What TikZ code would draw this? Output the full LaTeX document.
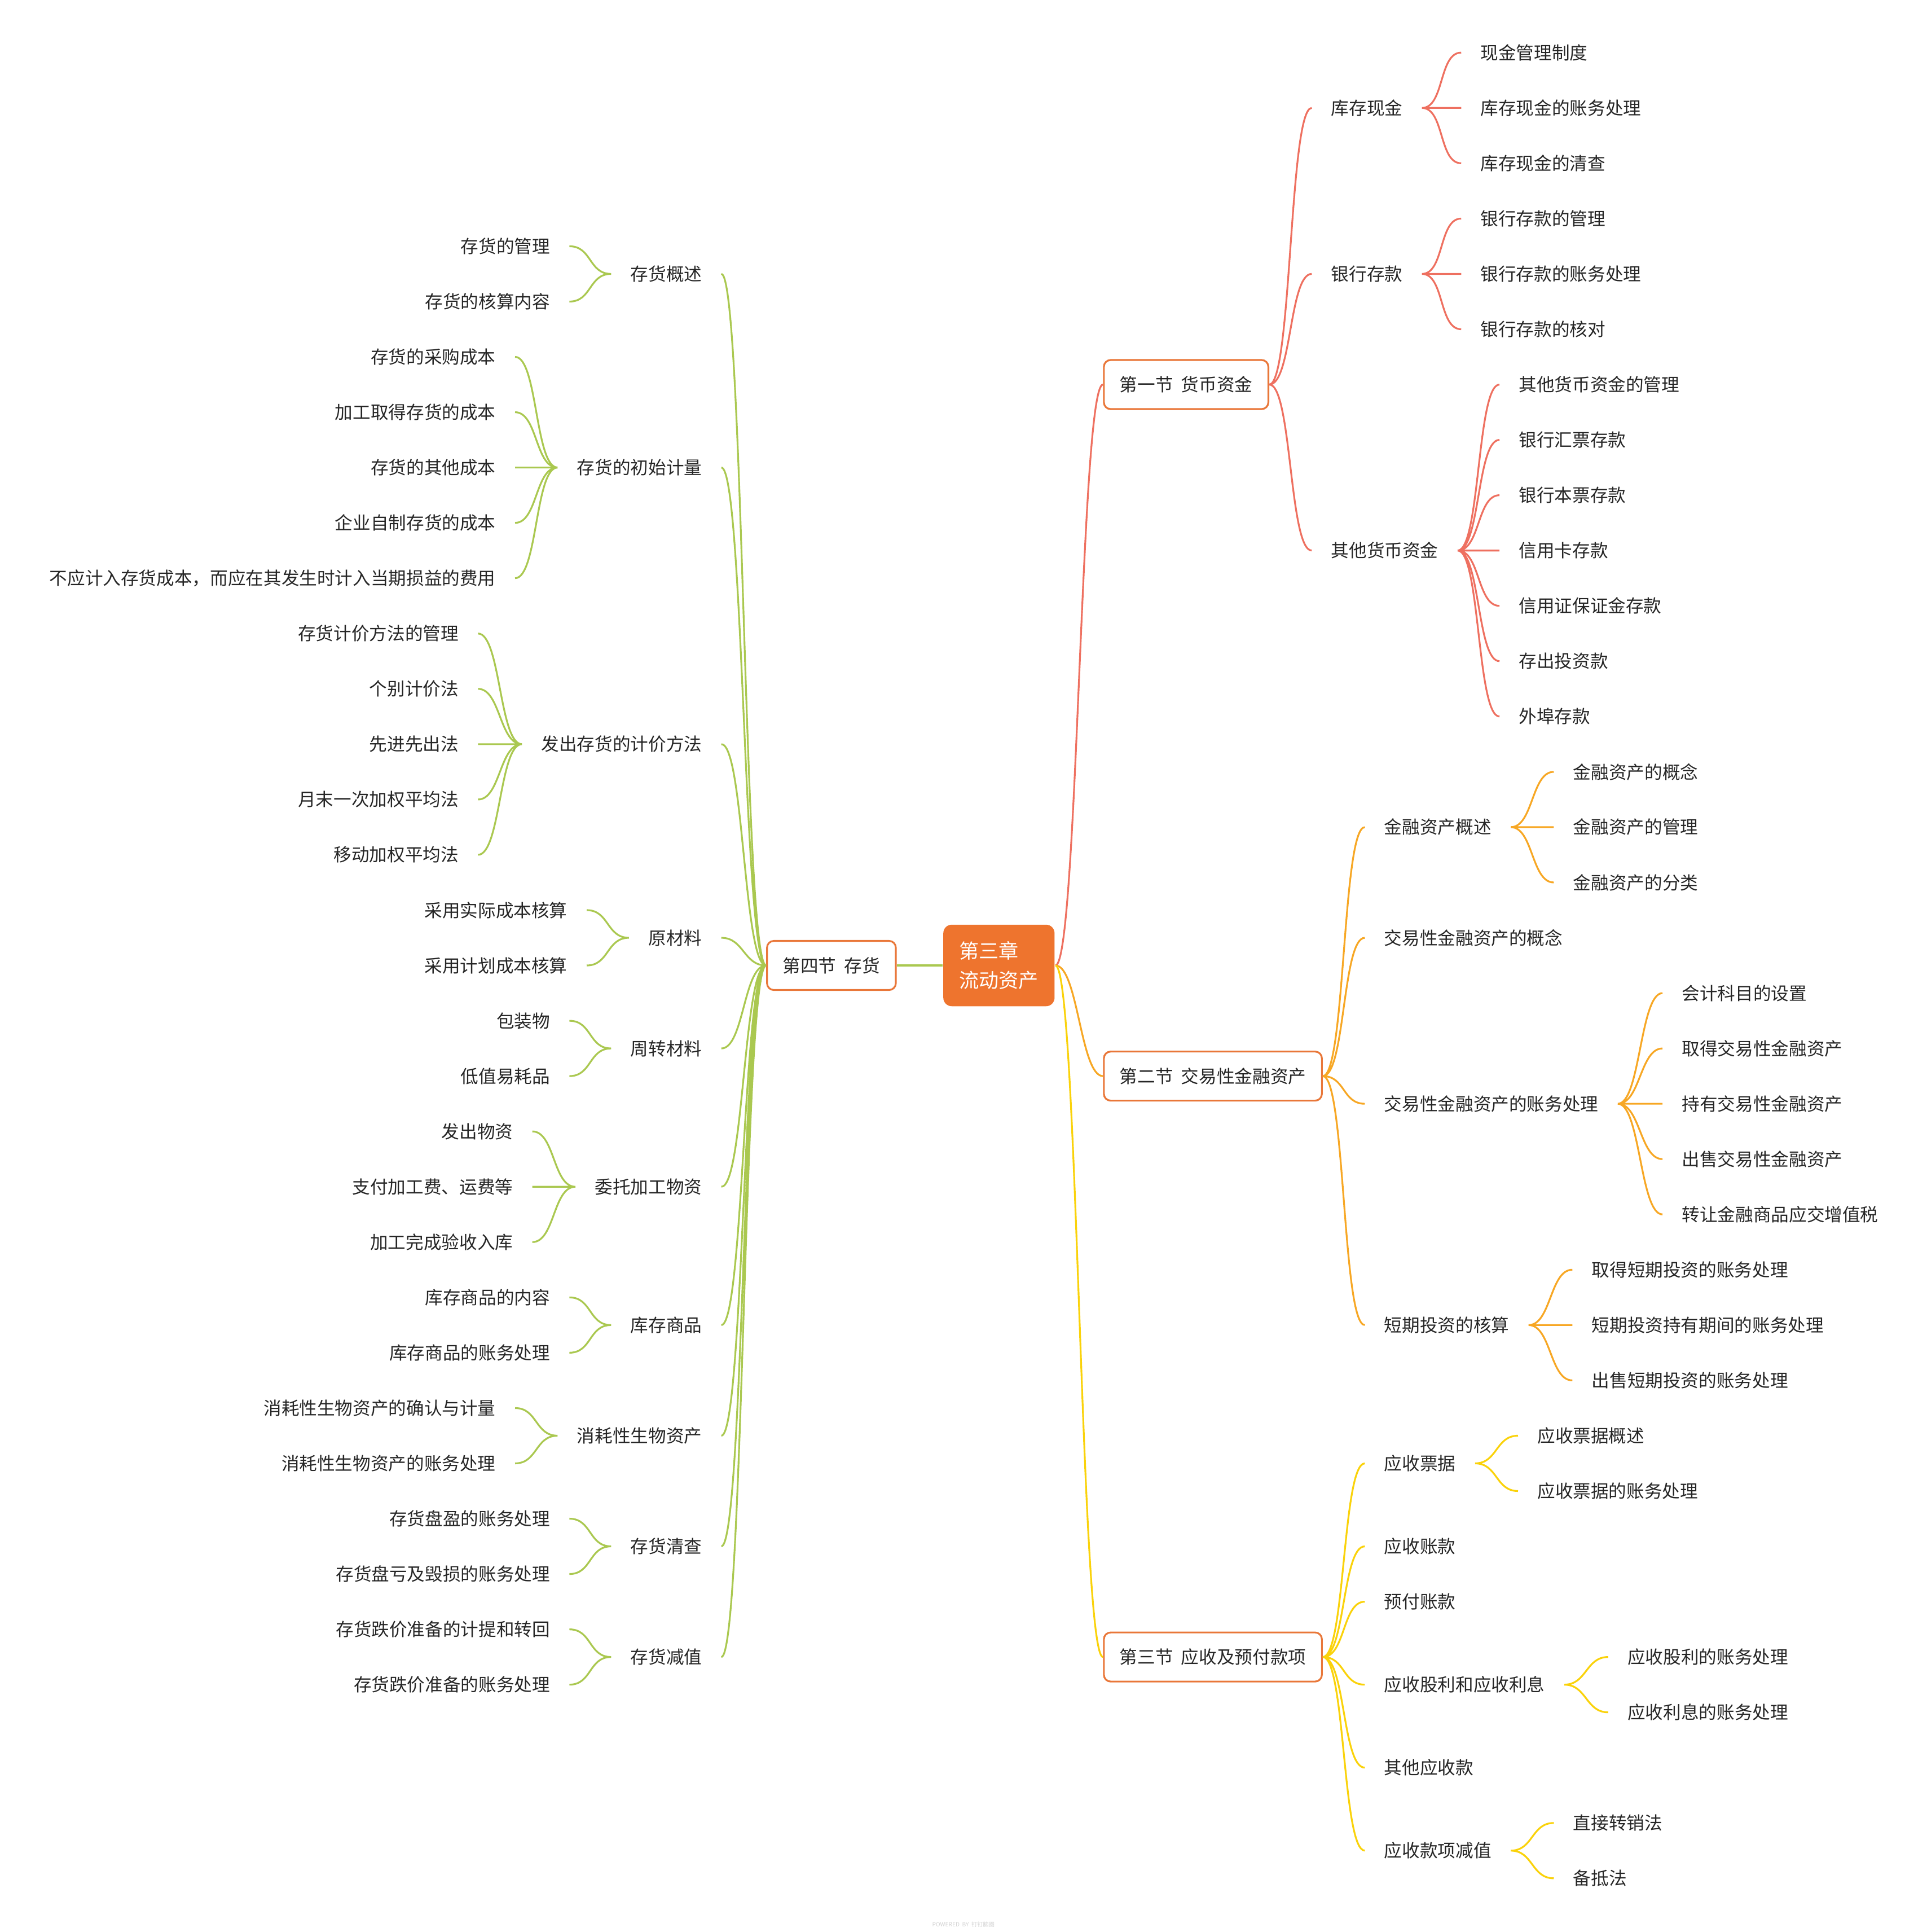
\documentclass[tikz,border=0pt]{standalone}
\usepackage{fontspec}
\setmainfont{Noto Sans CJK SC}[WordSpace=2]
\usepackage{tikz}

\definecolor{rootorange}{RGB}{238,116,46}
\definecolor{boxorange}{RGB}{233,119,57}
\definecolor{linered}{RGB}{238,112,96}
\definecolor{lineorange}{RGB}{247,167,36}
\definecolor{lineyellow}{RGB}{250,210,10}
\definecolor{linegreen}{RGB}{170,200,80}

\begin{document}
\begin{tikzpicture}[x=0.0219cm,y=-0.9805cm,line width=0.9pt,
    font=\fontsize{9}{11}\selectfont,text=black!85,
    root/.style={fill=rootorange,text=white,rounded corners=0.15cm,font=\fontsize{10}{15}\selectfont,align=left,inner xsep=0.283cm,minimum height=1.445cm},
    sect/.style={draw=boxorange,fill=white,rounded corners=0.12cm,inner xsep=0.28cm,minimum height=0.87cm},
    rt/.style={anchor=west,inner xsep=0.3285cm},
    lt/.style={anchor=east,inner xsep=0.3285cm},
    rc/.style={out=0,in=180,distance=0.4cm},
    lc/.style={out=180,in=0,distance=0.4cm}]
    \useasboundingbox (0,-0.951) rectangle (1559.8,33.971);

    \node[root,anchor=west] (root) at (763,16.5) {第三章\\流动资产};
    \node[sect,anchor=west] (s1) at (893,6) {第一节 货币资金};
    \node[sect,anchor=west] (s2) at (893,18.5) {第二节 交易性金融资产};
    \node[sect,anchor=west] (s3) at (893,29) {第三节 应收及预付款项};
    \node[sect,anchor=east] (s4) at (726,16.5) {第四节 存货};

    % 第一节
    \node[rt] (a1) at (1062,1) {库存现金};
    \node[rt] (a2) at (1062,4) {银行存款};
    \node[rt] (a3) at (1062,9) {其他货币资金};
    \node[rt] (a11) at (1183,0) {现金管理制度};
    \node[rt] (a12) at (1183,1) {库存现金的账务处理};
    \node[rt] (a13) at (1183,2) {库存现金的清查};
    \node[rt] (a21) at (1183,3) {银行存款的管理};
    \node[rt] (a22) at (1183,4) {银行存款的账务处理};
    \node[rt] (a23) at (1183,5) {银行存款的核对};
    \node[rt] (a31) at (1214,6) {其他货币资金的管理};
    \node[rt] (a32) at (1214,7) {银行汇票存款};
    \node[rt] (a33) at (1214,8) {银行本票存款};
    \node[rt] (a34) at (1214,9) {信用卡存款};
    \node[rt] (a35) at (1214,10) {信用证保证金存款};
    \node[rt] (a36) at (1214,11) {存出投资款};
    \node[rt] (a37) at (1214,12) {外埠存款};

    % 第二节
    \node[rt] (b1) at (1105,14) {金融资产概述};
    \node[rt] (b2) at (1105,16) {交易性金融资产的概念};
    \node[rt] (b3) at (1105,19) {交易性金融资产的账务处理};
    \node[rt] (b4) at (1105,23) {短期投资的核算};
    \node[rt] (b11) at (1258,13) {金融资产的概念};
    \node[rt] (b12) at (1258,14) {金融资产的管理};
    \node[rt] (b13) at (1258,15) {金融资产的分类};
    \node[rt] (b31) at (1346,17) {会计科目的设置};
    \node[rt] (b32) at (1346,18) {取得交易性金融资产};
    \node[rt] (b33) at (1346,19) {持有交易性金融资产};
    \node[rt] (b34) at (1346,20) {出售交易性金融资产};
    \node[rt] (b35) at (1346,21) {转让金融商品应交增值税};
    \node[rt] (b41) at (1273,22) {取得短期投资的账务处理};
    \node[rt] (b42) at (1273,23) {短期投资持有期间的账务处理};
    \node[rt] (b43) at (1273,24) {出售短期投资的账务处理};

    % 第三节
    \node[rt] (c1) at (1105,25.5) {应收票据};
    \node[rt] (c2) at (1105,27) {应收账款};
    \node[rt] (c3) at (1105,28) {预付账款};
    \node[rt] (c4) at (1105,29.5) {应收股利和应收利息};
    \node[rt] (c5) at (1105,31) {其他应收款};
    \node[rt] (c6) at (1105,32.5) {应收款项减值};
    \node[rt] (c11) at (1229,25) {应收票据概述};
    \node[rt] (c12) at (1229,26) {应收票据的账务处理};
    \node[rt] (c41) at (1302,29) {应收股利的账务处理};
    \node[rt] (c42) at (1302,30) {应收利息的账务处理};
    \node[rt] (c61) at (1258,32) {直接转销法};
    \node[rt] (c62) at (1258,33) {备抵法};

    % 第四节
    \node[lt] (d1) at (584,4) {存货概述};
    \node[lt] (d2) at (584,7.5) {存货的初始计量};
    \node[lt] (d3) at (584,12.5) {发出存货的计价方法};
    \node[lt] (d4) at (584,16) {原材料};
    \node[lt] (d5) at (584,18) {周转材料};
    \node[lt] (d6) at (584,20.5) {委托加工物资};
    \node[lt] (d7) at (584,23) {库存商品};
    \node[lt] (d8) at (584,25) {消耗性生物资产};
    \node[lt] (d9) at (584,27) {存货清查};
    \node[lt] (d10) at (584,29) {存货减值};
    \node[lt] (d11) at (461,3.5) {存货的管理};
    \node[lt] (d12) at (461,4.5) {存货的核算内容};
    \node[lt] (d21) at (417,5.5) {存货的采购成本};
    \node[lt] (d22) at (417,6.5) {加工取得存货的成本};
    \node[lt] (d23) at (417,7.5) {存货的其他成本};
    \node[lt] (d24) at (417,8.5) {企业自制存货的成本};
    \node[lt] (d25) at (417,9.5) {不应计入存货成本，而应在其发生时计入当期损益的费用};
    \node[lt] (d31) at (387,10.5) {存货计价方法的管理};
    \node[lt] (d32) at (387,11.5) {个别计价法};
    \node[lt] (d33) at (387,12.5) {先进先出法};
    \node[lt] (d34) at (387,13.5) {月末一次加权平均法};
    \node[lt] (d35) at (387,14.5) {移动加权平均法};
    \node[lt] (d41) at (475,15.5) {采用实际成本核算};
    \node[lt] (d42) at (475,16.5) {采用计划成本核算};
    \node[lt] (d51) at (461,17.5) {包装物};
    \node[lt] (d52) at (461,18.5) {低值易耗品};
    \node[lt] (d61) at (431,19.5) {发出物资};
    \node[lt] (d62) at (431,20.5) {支付加工费、运费等};
    \node[lt] (d63) at (431,21.5) {加工完成验收入库};
    \node[lt] (d71) at (461,22.5) {库存商品的内容};
    \node[lt] (d72) at (461,23.5) {库存商品的账务处理};
    \node[lt] (d81) at (417,24.5) {消耗性生物资产的确认与计量};
    \node[lt] (d82) at (417,25.5) {消耗性生物资产的账务处理};
    \node[lt] (d91) at (461,26.5) {存货盘盈的账务处理};
    \node[lt] (d92) at (461,27.5) {存货盘亏及毁损的账务处理};
    \node[lt] (d101) at (461,28.5) {存货跌价准备的计提和转回};
    \node[lt] (d102) at (461,29.5) {存货跌价准备的账务处理};

    \node[font=\fontsize{2.9}{3}\selectfont,text=black!18] (wm) at (780,33.83) {POWERED BY 钉钉脑图};

    % connectors
    \draw[linered] (root.east) to[rc] (s1.west);
    \draw[linered] (s1.east) to[rc] (a1.west) (s1.east) to[rc] (a2.west) (s1.east) to[rc] (a3.west);
    \draw[linered] (a1.east) to[rc] (a11.west) (a1.east) to[rc] (a12.west) (a1.east) to[rc] (a13.west);
    \draw[linered] (a2.east) to[rc] (a21.west) (a2.east) to[rc] (a22.west) (a2.east) to[rc] (a23.west);
    \draw[linered] (a3.east) to[rc] (a31.west) (a3.east) to[rc] (a32.west) (a3.east) to[rc] (a33.west)
        (a3.east) to[rc] (a34.west) (a3.east) to[rc] (a35.west) (a3.east) to[rc] (a36.west) (a3.east) to[rc] (a37.west);

    \draw[lineorange] (root.east) to[rc] (s2.west);
    \draw[lineorange] (s2.east) to[rc] (b1.west) (s2.east) to[rc] (b2.west) (s2.east) to[rc] (b3.west) (s2.east) to[rc] (b4.west);
    \draw[lineorange] (b1.east) to[rc] (b11.west) (b1.east) to[rc] (b12.west) (b1.east) to[rc] (b13.west);
    \draw[lineorange] (b3.east) to[rc] (b31.west) (b3.east) to[rc] (b32.west) (b3.east) to[rc] (b33.west)
        (b3.east) to[rc] (b34.west) (b3.east) to[rc] (b35.west);
    \draw[lineorange] (b4.east) to[rc] (b41.west) (b4.east) to[rc] (b42.west) (b4.east) to[rc] (b43.west);

    \draw[lineyellow] (root.east) to[rc] (s3.west);
    \draw[lineyellow] (s3.east) to[rc] (c1.west) (s3.east) to[rc] (c2.west) (s3.east) to[rc] (c3.west)
        (s3.east) to[rc] (c4.west) (s3.east) to[rc] (c5.west) (s3.east) to[rc] (c6.west);
    \draw[lineyellow] (c1.east) to[rc] (c11.west) (c1.east) to[rc] (c12.west);
    \draw[lineyellow] (c4.east) to[rc] (c41.west) (c4.east) to[rc] (c42.west);
    \draw[lineyellow] (c6.east) to[rc] (c61.west) (c6.east) to[rc] (c62.west);

    \draw[linegreen] (root.west) -- (s4.east);
    \draw[linegreen] (s4.west) to[lc] (d1.east) (s4.west) to[lc] (d2.east) (s4.west) to[lc] (d3.east)
        (s4.west) to[lc] (d4.east) (s4.west) to[lc] (d5.east) (s4.west) to[lc] (d6.east) (s4.west) to[lc] (d7.east)
        (s4.west) to[lc] (d8.east) (s4.west) to[lc] (d9.east) (s4.west) to[lc] (d10.east);
    \draw[linegreen] (d1.west) to[lc] (d11.east) (d1.west) to[lc] (d12.east);
    \draw[linegreen] (d2.west) to[lc] (d21.east) (d2.west) to[lc] (d22.east) (d2.west) to[lc] (d23.east)
        (d2.west) to[lc] (d24.east) (d2.west) to[lc] (d25.east);
    \draw[linegreen] (d3.west) to[lc] (d31.east) (d3.west) to[lc] (d32.east) (d3.west) to[lc] (d33.east)
        (d3.west) to[lc] (d34.east) (d3.west) to[lc] (d35.east);
    \draw[linegreen] (d4.west) to[lc] (d41.east) (d4.west) to[lc] (d42.east);
    \draw[linegreen] (d5.west) to[lc] (d51.east) (d5.west) to[lc] (d52.east);
    \draw[linegreen] (d6.west) to[lc] (d61.east) (d6.west) to[lc] (d62.east) (d6.west) to[lc] (d63.east);
    \draw[linegreen] (d7.west) to[lc] (d71.east) (d7.west) to[lc] (d72.east);
    \draw[linegreen] (d8.west) to[lc] (d81.east) (d8.west) to[lc] (d82.east);
    \draw[linegreen] (d9.west) to[lc] (d91.east) (d9.west) to[lc] (d92.east);
    \draw[linegreen] (d10.west) to[lc] (d101.east) (d10.west) to[lc] (d102.east);
\end{tikzpicture}
\end{document}
